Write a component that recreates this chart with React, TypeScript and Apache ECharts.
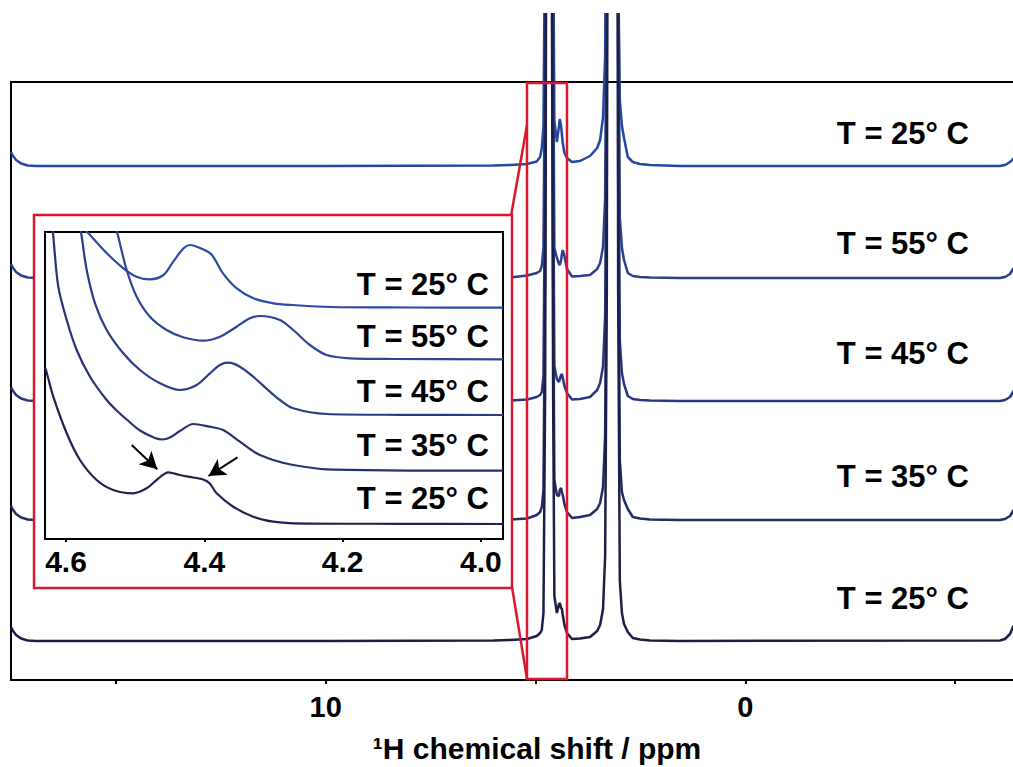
import React, { useEffect, useRef } from 'react';
import * as echarts from 'echarts';

// ---------- data ----------
// main spectra: chemical shift (ppm) and heights above each trace's baseline
const X_MAIN = [17.5, 17.45, 17.38, 17.26, 17.1, 16.9, 10, 6.0, 5.6, 5.2,
  4.97, 4.89, 4.85, 4.81, 4.77, 4.74, 4.68, 4.62, 4.58, 4.55,
  4.49, 4.44, 4.42, 4.39, 4.37, 4.35, 4.31, 4.25, 4.13, 3.94,
  3.70, 3.53, 3.46, 3.39, 3.34, 3.30, 3.16, 3.03, 2.99, 2.94,
  2.89, 2.80, 2.68, 2.51, 2.27, 1.56, -6.07, -6.19, -6.31, -6.38, -6.66, -7.0];
const BASE_MAIN = [514, 402, 279, 160, 39];
const H_MAIN_1 = [14, 10, 6, 2.5, 0.5, 0, 0, 0.5, 1, 2,
  4.5, 9, 18, 40, 250, 800, 5000, 800, 250, 45,
  24, 40, 47, 40, 31, 23, 13, 8, 4, 5,
  10, 18, 26, 49, 110, 400, 5000, 200, 66, 40,
  28, 9, 4, 2, 1, 0, 0, 1, 4, 7, 20, 45];
const H_MAIN_2 = [14, 10, 6, 2.5, 0.5, 0, 0, 0, 0.5, 2.5,
  5, 7, 12, 30, 250, 800, 5000, 800, 250, 30,
  20, 14, 13, 18, 24, 28, 22, 9, 1.5, 2,
  3, 9, 15, 31, 80, 350, 5000, 350, 60, 30,
  18, 5, 2, 1, 0.5, 0, 0, 1, 4, 9, 25, 50];
const H_MAIN_3 = [14, 10, 6, 2.5, 0.5, 0, 0, 0, 0.5, 1.5,
  4, 6, 9, 25, 250, 800, 5000, 800, 250, 35,
  22, 19, 22, 26, 27, 23, 15, 8, 1.5, 2,
  4, 11, 18, 35, 85, 350, 5000, 350, 60, 28,
  17, 5, 2, 1, 0.5, 0, 0, 1, 4, 9, 25, 50];
const H_MAIN_4 = [14, 10, 6, 2.5, 0.5, 0, 0, 0, 0.5, 1.5,
  5, 8, 13, 30, 250, 800, 5000, 800, 250, 40,
  25, 24, 30, 32, 28, 25, 16, 8, 2, 3,
  5, 11, 17, 33, 85, 350, 5000, 350, 60, 28,
  20, 11, 3, 1.5, 0.5, 0, 0, 1, 4, 9, 25, 50];
const H_MAIN_5 = [14, 10, 6, 2.5, 0.5, 0, 0, 0.5, 1, 2,
  5, 8, 11, 28, 250, 800, 5000, 800, 250, 45,
  28, 37, 38, 33, 32, 26, 16, 8, 2, 2.5,
  4, 10, 16, 32, 85, 350, 5000, 350, 60, 28,
  17, 9, 3, 1.5, 0.5, 0, 0.5, 2, 7, 14, 35, 60];
const H_MAIN = [H_MAIN_1, H_MAIN_2, H_MAIN_3, H_MAIN_4, H_MAIN_5];

// inset spectra (ppm, intensity)
const IN_X_1 = [4.580, 4.563, 4.541, 4.517, 4.498, 4.479, 4.459, 4.445, 4.430, 4.421, 4.402, 4.389, 4.373, 4.353, 4.329, 4.300, 4.272, 4.218, 4.100, 3.968];
const IN_V_1 = [315, 302.3, 285.7, 270.7, 262.3, 259.7, 264, 277.3, 290.7, 294, 289.7, 284, 265.7, 250.7, 240.7, 235.7, 234, 232, 231.5, 231.3];
const IN_X_2 = [4.529, 4.5244, 4.5123, 4.4978, 4.4786, 4.4545, 4.4305, 4.4015, 4.3774, 4.3533, 4.334, 4.3195, 4.2906, 4.2714, 4.2473, 4.2231, 4.1894, 4.1268, 3.968];
const IN_V_2 = [315, 302.3, 269, 242.3, 222.3, 209, 201.7, 198.3, 202.3, 212.3, 220.7, 223, 219, 209, 194, 184, 180.7, 180, 179.7];
const IN_X_3 = [4.5815, 4.5773, 4.5701, 4.5581, 4.5412, 4.5172, 4.4931, 4.4641, 4.4353, 4.4111, 4.3919, 4.3774, 4.3654, 4.3485, 4.3293, 4.3051, 4.2906, 4.2714, 4.2231, 4.117, 3.968];
const IN_V_3 = [320, 302.3, 269, 235.7, 209, 185.7, 169, 155.7, 149, 154, 165.7, 174, 176.3, 172.3, 162.3, 147.3, 139, 130.7, 125, 124.2, 124];
const IN_X_4 = [4.621, 4.6184, 4.6112, 4.599, 4.5846, 4.5653, 4.5412, 4.5268, 4.5123, 4.4931, 4.4714, 4.4605, 4.4497, 4.4352, 4.4160, 4.3919, 4.3726, 4.3485, 4.3244, 4.3003, 4.2714, 4.2231, 3.968];
const IN_V_4 = [320, 302.3, 252.3, 219, 189, 162.3, 139, 128.5, 119.5, 108.5, 101, 99.5, 101.5, 108, 115, 112.3, 109, 97.3, 85.7, 79, 74, 69.7, 68.3];
const IN_X_5 = [4.6304, 4.629, 4.6184, 4.599, 4.5798, 4.5557, 4.5317, 4.5028, 4.4834, 4.469, 4.4521, 4.4352, 4.416, 4.4015, 4.392, 4.3822, 4.3582, 4.3293, 4.3003, 4.2714, 4.117, 3.968];
const IN_V_5 = [171, 169, 142.3, 105.7, 79, 59, 49, 45.7, 50.7, 59, 66.7, 64, 61.5, 59.5, 55.5, 45.7, 32.3, 22.3, 17.3, 15.7, 15.2, 15];
const IN_X = [IN_X_1, IN_X_2, IN_X_3, IN_X_4, IN_X_5];
const IN_V = [IN_V_1, IN_V_2, IN_V_3, IN_V_4, IN_V_5];

// arrows in inset: [tail, tip] in (ppm, intensity)
const ARROW_1 = [[4.505, 94], [4.468, 69.7]];
const ARROW_2 = [[4.352, 81.7], [4.394, 63]];

const LABELS = ['T = 25° C', 'T = 55° C', 'T = 45° C', 'T = 35° C', 'T = 25° C'];
const MAIN_TICKS = [15, 10, 5, 0, -5];
const MAIN_TICK_LABELS = [10, 0];
const INSET_TICKS = [4.6, 4.4, 4.2, 4.0];

// ---------- layout / style ----------
const FONT = '"Liberation Sans", Arial, Helvetica, sans-serif';
const MAIN_COLORS = ['#2447a3', '#2b3f8f', '#2a3780', '#242c66', '#1b1e45'];
const INSET_COLORS = ['#2a4ba6', '#2e4497', '#2c3b86', '#283270', '#1e2250'];
const MAIN_LABEL_Y = [133, 243, 353, 476, 598];
const INSET_LABEL_Y = [284, 336, 391, 445, 498];
const RED = '#d7192d';

export default function App() {
  const ref = useRef<HTMLDivElement>(null);
  useEffect(() => {
    if (!ref.current) return;
    const chart = echarts.init(ref.current, undefined, { renderer: 'svg' });

    const mainSeries = H_MAIN.map((h, i) => ({
      type: 'line',
      xAxisIndex: 0,
      yAxisIndex: 0,
      data: X_MAIN.map((x, j) => [x, BASE_MAIN[i] + h[j]]),
      symbol: 'none',
      showSymbol: false,
      clip: false,
      silent: true,
      z: 2,
      lineStyle: { color: MAIN_COLORS[i], width: 2.5 },
    }));

    const insetSeries = IN_X.map((xs, i) => ({
      type: 'line',
      xAxisIndex: 1,
      yAxisIndex: 1,
      data: xs.map((x, j) => [x, IN_V[i][j]]),
      symbol: 'none',
      showSymbol: false,
      clip: true,
      smooth: 0.3,
      silent: true,
      z: 21,
      lineStyle: { color: INSET_COLORS[i], width: 2.2 },
      ...(i === 4
        ? {
            markLine: {
              silent: true,
              z: 25,
              symbol: ['none', 'arrow'],
              symbolSize: [14, 17],
              label: { show: false },
              lineStyle: { color: '#000', width: 2, type: 'solid' },
              data: [
                [{ coord: ARROW_1[0] }, { coord: ARROW_1[1] }],
                [{ coord: ARROW_2[0] }, { coord: ARROW_2[1] }],
              ],
            },
          }
        : {}),
    }));

    const textStyle = (x: number, y: number, text: string, align: string, size: number) => ({
      type: 'text',
      x,
      y,
      z: 30,
      silent: true,
      style: {
        text,
        fill: '#000',
        font: `bold ${size}px ${FONT}`,
        textAlign: align,
        align,
        textVerticalAlign: 'middle',
        verticalAlign: 'middle',
      },
    });

    const graphics: any[] = [
      { type: 'rect', z: 12, silent: true, shape: { x: 0, y: 0, width: 1045, height: 13 }, style: { fill: '#fff' } },
      { type: 'rect', z: 10, silent: true, shape: { x: 34, y: 215, width: 478, height: 373 }, style: { fill: '#fff', stroke: RED, lineWidth: 2.5 } },
      { type: 'rect', z: 11, silent: true, shape: { x: 527, y: 83, width: 40, height: 596 }, style: { fill: 'none', stroke: RED, lineWidth: 2.5 } },
      { type: 'line', z: 11, silent: true, shape: { x1: 511, y1: 216, x2: 527, y2: 125 }, style: { stroke: RED, lineWidth: 2.5 } },
      { type: 'line', z: 11, silent: true, shape: { x1: 512, y1: 587, x2: 527, y2: 679 }, style: { stroke: RED, lineWidth: 2.5 } },
      ...LABELS.map((t, i) => textStyle(969, MAIN_LABEL_Y[i], t, 'right', 31)),
      ...LABELS.map((t, i) => textStyle(489, INSET_LABEL_Y[i], t, 'right', 31)),
      textStyle(537, 748, '¹H chemical shift / ppm', 'center', 30),
    ];

    const axisLabelBase = { color: '#000', fontWeight: 'bold', fontFamily: FONT };

    chart.setOption({
      animation: false,
      backgroundColor: '#fff',
      grid: [
        { left: 11, top: 82, width: 1028, height: 598, show: true, borderColor: '#000', borderWidth: 2, backgroundColor: 'transparent', containLabel: false },
        { left: 45, top: 232, width: 458, height: 307, show: true, borderColor: '#000', borderWidth: 2, backgroundColor: 'transparent', z: 20, containLabel: false },
      ],
      xAxis: [
        {
          gridIndex: 0,
          type: 'value',
          inverse: true,
          min: -7,
          max: 17.5,
          axisLine: { show: true, onZero: false, lineStyle: { color: '#000', width: 2 } },
          axisTick: { show: true, customValues: MAIN_TICKS, length: 4, lineStyle: { color: '#000', width: 2 } },
          axisLabel: { ...axisLabelBase, customValues: MAIN_TICK_LABELS, margin: 12, fontSize: 29, formatter: (v: number) => String(v) },
          splitLine: { show: false },
        },
        {
          gridIndex: 1,
          type: 'value',
          inverse: true,
          min: 3.968,
          max: 4.6304,
          z: 20,
          axisLine: { show: true, onZero: false, lineStyle: { color: '#000', width: 2 } },
          axisTick: { show: true, customValues: INSET_TICKS, length: 3, lineStyle: { color: '#000', width: 2 } },
          axisLabel: { ...axisLabelBase, customValues: INSET_TICKS, margin: 7, fontSize: 30, formatter: (v: number) => v.toFixed(1) },
          splitLine: { show: false },
        },
      ],
      yAxis: [
        { gridIndex: 0, type: 'value', min: 0, max: 598, show: false },
        { gridIndex: 1, type: 'value', min: 0, max: 307, show: false },
      ],
      series: [...mainSeries, ...insetSeries],
      graphic: graphics,
    });

    return () => chart.dispose();
  }, []);

  return (
    <div style={{ position: 'fixed', left: 0, top: 0, width: 1013, height: 767, overflow: 'hidden', background: '#fff' }}>
      <div ref={ref} style={{ width: 1045, height: 767 }} />
    </div>
  );
}
